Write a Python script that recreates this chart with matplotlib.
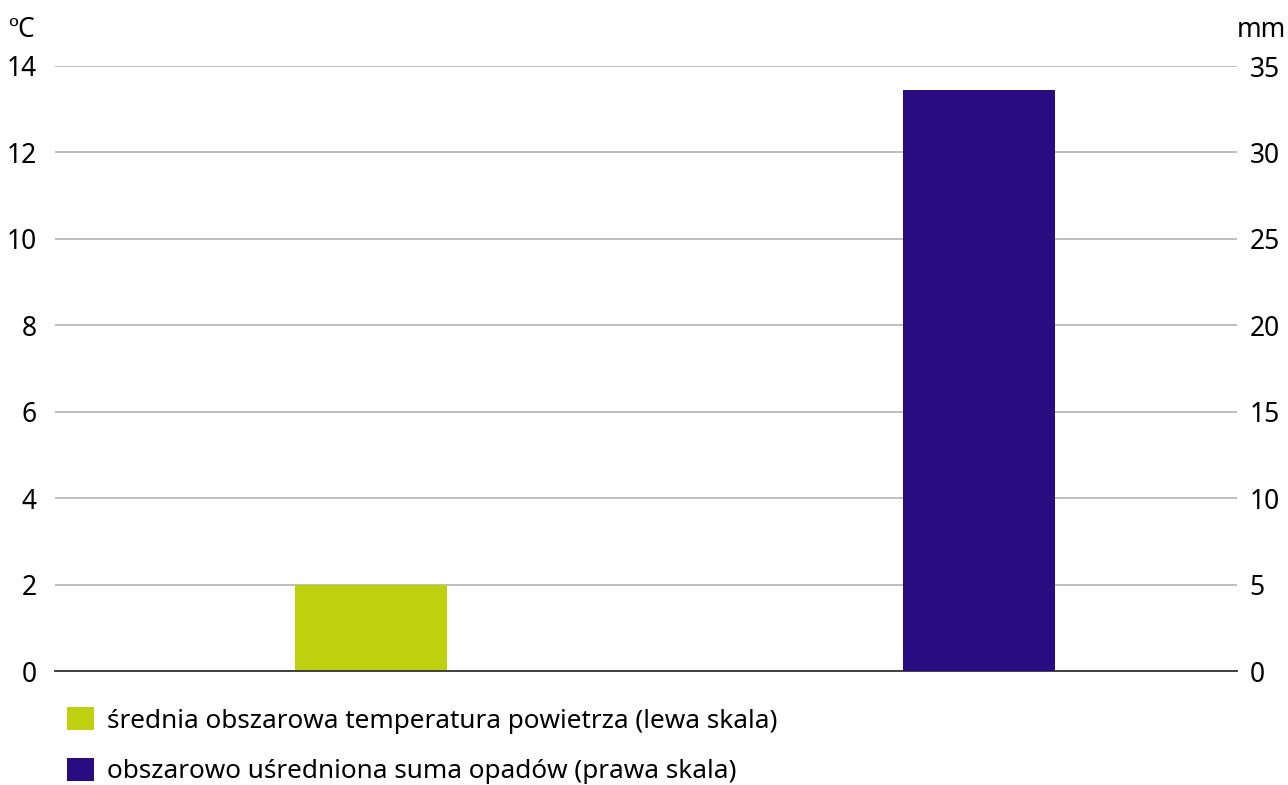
import matplotlib
matplotlib.use("Agg")
import matplotlib.pyplot as plt

categories = ["temperatura", "opady"]
temp_values = [1.98]
precip_values = [33.6]
left_ticks = [0, 2, 4, 6, 8, 10, 12, 14]
right_ticks = [0, 5, 10, 15, 20, 25, 30, 35]
legend_labels = ["średnia obszarowa temperatura powietrza (lewa skala)",
                 "obszarowo uśredniona suma opadów (prawa skala)"]
green = "#bfd00f"
purple = "#290b82"

plt.rcParams['font.family'] = ['Noto Sans', 'DejaVu Sans']

fig = plt.figure(figsize=(12.88, 7.85), dpi=100)
ax = fig.add_axes([55/1288, 1-671/785, (1237-55)/1288, (671-66)/785])
ax2 = ax.twinx()

b1 = ax.bar([0], temp_values, width=0.25, color=green, zorder=3, label=legend_labels[0])
b2 = ax2.bar([1], precip_values, width=0.25, color=purple, zorder=3, label=legend_labels[1])

for a in (ax, ax2):
    a.set_xlim(-0.52, 1.424)
    for s in a.spines.values():
        s.set_visible(False)
    a.tick_params(length=0, labelsize=19)
ax.set_ylim(0, 14)
ax2.set_ylim(0, 35)
ax.set_yticks(left_ticks)
ax2.set_yticks(right_ticks)
ax.set_xticks([])
ax.tick_params(axis='y', pad=13)
ax2.tick_params(axis='y', pad=9)
ax.grid(axis='y', color='#b3b3b3', linewidth=1.2, zorder=0)
ax.set_axisbelow(True)
ax.axhline(0, color='#333333', linewidth=1.3, zorder=4, clip_on=False)

fig.text(8/1288, 1-30/785, "ºC", fontsize=19, va='center', ha='left')
fig.text(1286/1288, 1-30/785, "mm", fontsize=19, va='center', ha='right')

leg = fig.legend(handles=[b1[0], b2[0]], labels=legend_labels,
                 loc='upper left', bbox_to_anchor=(67/1288, 1-707/785),
                 frameon=False, fontsize=18.8, handlelength=1.03, handleheight=1.0,
                 handletextpad=0.52, labelspacing=0.92, borderaxespad=0, borderpad=0)

fig.savefig("out.png", dpi=100)
